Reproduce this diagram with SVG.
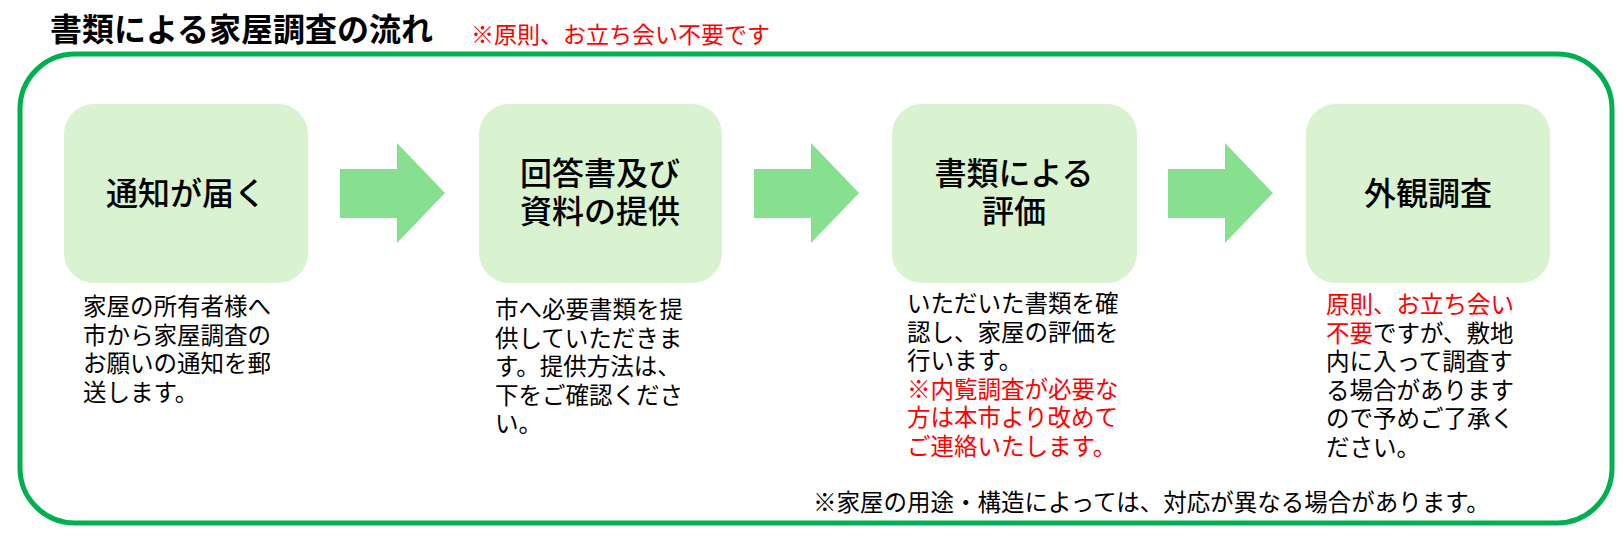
<svg xmlns="http://www.w3.org/2000/svg" width="1624" height="542" viewBox="0 0 1624 542">
<style>
text{font-family:"Noto Sans CJK JP","Noto Sans",sans-serif}
.box{fill:#d9f2d0}
.arr{fill:#86e08f}
.lbl{font-size:32px;font-weight:500;text-anchor:middle;fill:#000}
.d{font-size:23.5px;fill:#000}
.r{fill:#ff0000}
</style>
<rect width="1624" height="542" fill="#fff"/>
<text x="50" y="41" font-size="32" font-weight="bold" fill="#000">書類による家屋調査の流れ</text>
<text x="471" y="43" font-size="23" class="r">※原則、お立ち会い不要です</text>
<rect x="20" y="54" width="1592" height="469" rx="55" fill="none" stroke="#00b050" stroke-width="5"/>
<g id="connectors">
<polygon class="arr" points="340,169 397,169 397,143 445,193 397,243 397,218 340,218"/>
<polygon class="arr" points="754,169 811,169 811,143 859,193 811,243 811,218 754,218"/>
<polygon class="arr" points="1168,169 1225,169 1225,143 1273,193 1225,243 1225,218 1168,218"/>
</g>
<g id="n1"><rect class="box" x="64" y="104" width="244" height="179" rx="30"/>
<text class="lbl" x="186" y="205">通知が届く</text>
<text class="d"><tspan x="83" y="315">家屋の所有者様へ</tspan><tspan x="83" y="343.5">市から家屋調査の</tspan><tspan x="83" y="372">お願いの通知を郵</tspan><tspan x="83" y="400.5">送します。</tspan></text></g>
<g id="n2"><rect class="box" x="479" y="104" width="243" height="179" rx="30"/>
<text class="lbl" x="600" y="185">回答書及び</text><text class="lbl" x="600" y="223">資料の提供</text>
<text class="d"><tspan x="495" y="318">市へ必要書類を提</tspan><tspan x="495" y="346.5">供していただきま</tspan><tspan x="495" y="375">す。提供方法は、</tspan><tspan x="495" y="403.5">下をご確認くださ</tspan><tspan x="495" y="432">い。</tspan></text></g>
<g id="n3"><rect class="box" x="892" y="104" width="245" height="179" rx="30"/>
<text class="lbl" x="1014" y="185">書類による</text><text class="lbl" x="1014" y="223">評価</text>
<text class="d"><tspan x="907" y="312">いただいた書類を確</tspan><tspan x="907" y="340.5">認し、家屋の評価を</tspan><tspan x="907" y="369">行います。</tspan><tspan class="r" x="907" y="397.5">※内覧調査が必要な</tspan><tspan class="r" x="907" y="426">方は本市より改めて</tspan><tspan class="r" x="907" y="454.5">ご連絡いたします。</tspan></text></g>
<g id="n4"><rect class="box" x="1306" y="104" width="244" height="179" rx="30"/>
<text class="lbl" x="1428" y="205">外観調査</text>
<text class="d"><tspan class="r" x="1326" y="313">原則、お立ち会い</tspan><tspan class="r" x="1326" y="341.5">不要</tspan><tspan>ですが、敷地</tspan><tspan x="1326" y="370">内に入って調査す</tspan><tspan x="1326" y="398.5">る場合がありま&#x3059;</tspan><tspan x="1326" y="427">ので予めご了承く</tspan><tspan x="1326" y="455.5">ださい。</tspan></text></g>
<text class="d" x="813" y="511">※家屋の用途・構造によっては、対応が異なる場合があります。</text>
</svg>
